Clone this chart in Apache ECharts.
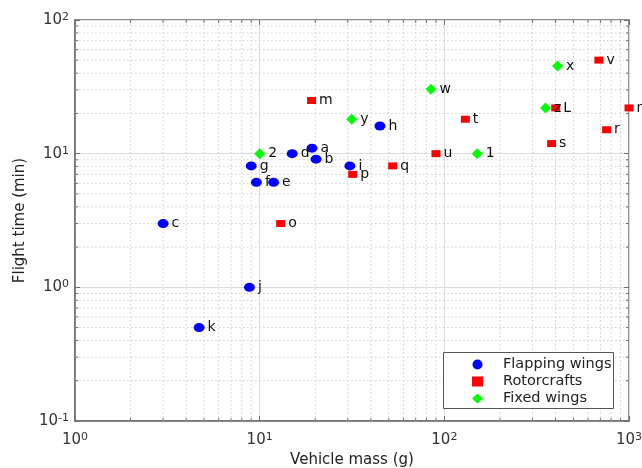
<!DOCTYPE html>
<html>
<head>
<meta charset="utf-8">
<script src="https://cdn.jsdelivr.net/npm/echarts@6/dist/echarts.min.js"></script>
<style>html,body{margin:0;padding:0;background:#fff;}#c{width:642px;height:468px;}</style>
</head>
<body>
<div id="c"></div>
<script>
// ---- data ----
var flappingNames = ['a','b','c','d','e','f','g','h','i','j','k'];
var flappingMass  = [19.2, 20.2, 3.0, 15.0, 11.9, 9.6, 9.0, 44.8, 30.8, 8.8, 4.7];
var flappingTime  = [11.0, 9.1, 3.0, 10.0, 6.1, 6.1, 8.1, 16.1, 8.1, 1.0, 0.5];

var rotorNames = ['m','n','o','p','q','r','s','t','u','v','L'];
var rotorMass  = [19.1, 1000, 13.0, 31.9, 52.5, 756, 381, 130, 90.1, 687, 401];
var rotorTime  = [25.0, 22.0, 3.0, 7.0, 8.1, 15.1, 11.9, 18.1, 10.0, 50.1, 22.0];

var fixedNames = ['w','x','y','z','1','2'];
var fixedMass  = [84.6, 410, 31.5, 353, 150.7, 10.0];
var fixedTime  = [30.3, 45.2, 18.1, 22.0, 10.0, 10.0];

var seriesNames = ['Flapping wings', 'Rotorcrafts', 'Fixed wings'];
var xMajor = [1, 10, 100, 1000];
var yMajor = [0.1, 1, 10, 100];
var minorMultipliers = [2, 3, 4, 5, 6, 7, 8, 9];

// ---- helpers ----
function pts(xs, ys, names) {
  return xs.map(function (x, i) { return { name: names[i], value: [x, ys[i]] }; });
}
function minorValues(majors) {
  var out = [];
  for (var i = 0; i < majors.length - 1; i++) {
    minorMultipliers.forEach(function (m) { out.push(majors[i] * m); });
  }
  return out;
}
var xMinor = minorValues(xMajor);
var yMinor = minorValues(yMajor);

var FONT = 'DejaVu Sans';
function powLabel(v) {
  var e = Math.round(Math.log10(v));
  return '{b|10}{s|' + e + '}';
}
var richPow = {
  b: { fontFamily: FONT, fontSize: 15, color: '#333' },
  s: { fontFamily: FONT, fontSize: 11, color: '#333', verticalAlign: 'top', padding: [0, 0, 6, 0] }
};

var labelStyle = {
  show: true, position: 'right', distance: 3, formatter: '{b}',
  fontFamily: FONT, fontSize: 14, color: '#111'
};

var axisLineStyle = { color: '#6e6e6e', width: 1.5 };

function minorGridSeries(values, isX) {
  return {
    type: 'custom',
    silent: true,
    z: 1,
    xAxisIndex: 0, yAxisIndex: 0,
    data: values.map(function (v) { return isX ? [v, 1] : [1, v]; }),
    renderItem: function (params, api) {
      var cs = params.coordSys;
      var children = [];
      var dash = { stroke: '#cfcfcf', lineWidth: 1, lineDash: [1.5, 2.5] };
      var tick = { stroke: '#6e6e6e', lineWidth: 1 };
      var L = 3;
      if (isX) {
        var x = api.coord([api.value(0), 1])[0];
        children.push({ type: 'line', shape: { x1: x, y1: cs.y, x2: x, y2: cs.y + cs.height }, style: dash });
        children.push({ type: 'line', shape: { x1: x, y1: cs.y + cs.height, x2: x, y2: cs.y + cs.height - L }, style: tick });
        children.push({ type: 'line', shape: { x1: x, y1: cs.y, x2: x, y2: cs.y + L }, style: tick });
      } else {
        var y = api.coord([1, api.value(1)])[1];
        children.push({ type: 'line', shape: { x1: cs.x, y1: y, x2: cs.x + cs.width, y2: y }, style: dash });
        children.push({ type: 'line', shape: { x1: cs.x, y1: y, x2: cs.x + L, y2: y }, style: tick });
        children.push({ type: 'line', shape: { x1: cs.x + cs.width, y1: y, x2: cs.x + cs.width - L, y2: y }, style: tick });
      }
      return { type: 'group', children: children };
    }
  };
}

var chart = echarts.init(document.getElementById('c'), null, { renderer: 'canvas' });
chart.setOption({
  animation: false,
  backgroundColor: '#fff',
  grid: { left: 75, right: 13, top: 20, bottom: 47, containLabel: false, outerBoundsMode: 'none',
          show: true, borderColor: '#6e6e6e', borderWidth: 1.5, backgroundColor: '#fff' },
  graphic: [{
    type: 'rect', left: 443, top: 352, z: 50,
    shape: { width: 170, height: 56 },
    style: { fill: '#fff', stroke: '#555', lineWidth: 1 }
  }],
  xAxis: [{
    type: 'log', logBase: 10, min: xMajor[0], max: xMajor[xMajor.length - 1],
    name: 'Vehicle mass (g)', nameLocation: 'middle', nameGap: 31,
    nameTextStyle: { fontFamily: FONT, fontSize: 15, color: '#222' },
    axisLine: { lineStyle: axisLineStyle },
    axisTick: { inside: true, length: 5, lineStyle: { color: '#6e6e6e' } },
    axisLabel: { formatter: powLabel, rich: richPow, margin: 11 },
    splitLine: { show: true, lineStyle: { color: '#dcdcdc', width: 1 } }
  }, {
    type: 'log', logBase: 10, min: xMajor[0], max: xMajor[xMajor.length - 1], position: 'top',
    axisLine: { show: false }, axisLabel: { show: false },
    axisTick: { inside: true, length: 5, lineStyle: { color: '#6e6e6e' } },
    splitLine: { show: false }
  }],
  yAxis: [{
    type: 'log', logBase: 10, min: yMajor[0], max: yMajor[yMajor.length - 1],
    name: 'Flight time (min)', nameLocation: 'middle', nameGap: 44,
    nameTextStyle: { fontFamily: FONT, fontSize: 15, color: '#222' },
    axisLine: { lineStyle: axisLineStyle },
    axisTick: { inside: true, length: 5, lineStyle: { color: '#6e6e6e' } },
    axisLabel: { formatter: powLabel, rich: richPow, margin: 6 },
    splitLine: { show: true, lineStyle: { color: '#dcdcdc', width: 1 } }
  }, {
    type: 'log', logBase: 10, min: yMajor[0], max: yMajor[yMajor.length - 1], position: 'right',
    axisLine: { show: false }, axisLabel: { show: false },
    axisTick: { inside: true, length: 5, lineStyle: { color: '#6e6e6e' } },
    splitLine: { show: false }
  }],
  legend: {
    orient: 'vertical', left: 443, top: 352, z: 60,
    data: [
      { name: seriesNames[0], icon: 'circle' },
      { name: seriesNames[1], icon: 'rect' },
      { name: seriesNames[2], icon: 'diamond' }
    ],
    padding: [5, 0, 0, 29], itemGap: 2, itemWidth: 11, itemHeight: 10,
    textStyle: { fontFamily: FONT, fontSize: 14.5, lineHeight: 15, color: '#222', padding: [0, 0, 0, 15] }
  },
  series: [
    minorGridSeries(xMinor, true),
    minorGridSeries(yMinor, false),
    {
      name: seriesNames[0], type: 'scatter', z: 5,
      symbol: 'circle', symbolSize: [11, 9],
      itemStyle: { color: '#0000ff', opacity: 1 },
      label: labelStyle,
      data: pts(flappingMass, flappingTime, flappingNames)
    },
    {
      name: seriesNames[1], type: 'scatter', z: 5,
      symbol: 'rect', symbolSize: [9, 7],
      itemStyle: { color: '#ff0000', opacity: 1 },
      label: labelStyle,
      data: pts(rotorMass, rotorTime, rotorNames)
    },
    {
      name: seriesNames[2], type: 'scatter', z: 5,
      symbol: 'diamond', symbolSize: [11, 11],
      itemStyle: { color: '#00ff00', opacity: 1 },
      label: labelStyle,
      data: pts(fixedMass, fixedTime, fixedNames)
    }
  ]
});
</script>
</body>
</html>
